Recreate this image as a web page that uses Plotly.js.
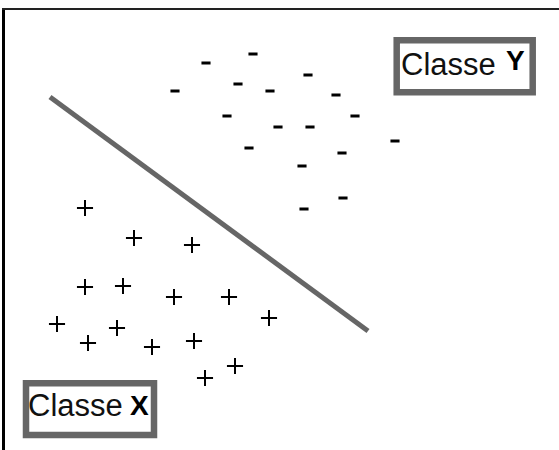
<!DOCTYPE html>
<html>
<head>
<meta charset="utf-8">
<script src="https://cdn.plot.ly/plotly-3.0.1.min.js"></script>
<style>html,body{margin:0;padding:0;background:#fff;}#chart{width:559px;height:450px;}</style>
</head>
<body>
<div id="chart"></div>
<script>
// Classe Y (minus signs)
const minusX = [24.8, 20.1, 30.3, 23.3, 17.0, 26.5, 33.1, 22.2, 35.0, 27.3, 30.5, 39.0, 24.4, 33.7, 29.7, 33.8, 29.9];
const minusY = [39.6, 38.7, 37.5, 36.6, 35.9, 35.9, 35.5, 33.4, 33.4, 32.3, 32.3, 30.9, 30.2, 29.7, 28.4, 25.2, 24.1];
// Classe X (plus signs)
const plusX = [8.0, 12.9, 18.7, 8.0, 11.8, 16.9, 22.4, 26.4, 5.2, 11.2, 8.3, 14.7, 18.9, 23.0, 20.0];
const plusY = [24.2, 21.2, 20.5, 16.3, 16.4, 15.3, 15.3, 13.2, 12.6, 12.2, 10.7, 10.3, 10.9, 8.4, 7.2];
// separating line
const lineX = [4.5, 36.3];
const lineY = [35.3, 11.9];
// labels
const classWord = "Classe";
const classLetters = ["X", "Y"];

const fam = "Liberation Sans, Arial, Helvetica, sans-serif";
const boxColor = "#666666";

const traces = [
  {x: lineX, y: lineY, mode: "lines", line: {color: boxColor, width: 5}, hoverinfo: "skip"},
  {x: minusX, y: minusY, mode: "markers", marker: {symbol: "line-ew", size: 6.5, line: {color: "#000", width: 3}}},
  {x: plusX, y: plusY, mode: "markers", marker: {symbol: "cross-thin", size: 11.5, line: {color: "#000", width: 2}}}
];

const layout = {
  width: 559, height: 450,
  margin: {l: 5, t: 10, r: 0, b: 0, pad: 0},
  paper_bgcolor: "#fff", plot_bgcolor: "#fff",
  showlegend: false,
  xaxis: {range: [0, 55.4], side: "top", showline: true, linecolor: "#222", linewidth: 2,
          showgrid: false, zeroline: false, ticks: "", showticklabels: false, fixedrange: true},
  yaxis: {range: [0, 44], showline: true, linecolor: "#000", linewidth: 3,
          showgrid: false, zeroline: false, ticks: "", showticklabels: false, fixedrange: true},
  shapes: [
    {type: "rect", xref: "x", yref: "y", x0: 2.1, x1: 14.9, y0: 1.5, y1: 6.67, line: {color: boxColor, width: 6.5}},
    {type: "rect", xref: "x", yref: "y", x0: 39.17, x1: 52.77, y0: 35.77, y1: 40.97, line: {color: boxColor, width: 6.5}}
  ],
  annotations: [
    {x: 2.1, y: 4.45, xref: "x", yref: "y", text: classWord, showarrow: false, xanchor: "left", yanchor: "middle",
     font: {family: fam, size: 31, color: "#111"}},
    {x: 13.4, y: 4.5, xref: "x", yref: "y", text: "<b>" + classLetters[0] + "</b>", showarrow: false, xanchor: "center", yanchor: "middle",
     font: {family: fam, size: 28, color: "#000"}},
    {x: 39.35, y: 38.6, xref: "x", yref: "y", text: classWord, showarrow: false, xanchor: "left", yanchor: "middle",
     font: {family: fam, size: 31, color: "#111"}},
    {x: 51.03, y: 38.95, xref: "x", yref: "y", text: "<b>" + classLetters[1] + "</b>", showarrow: false, xanchor: "center", yanchor: "middle",
     font: {family: fam, size: 28, color: "#000"}}
  ]
};

Plotly.newPlot("chart", traces, layout, {displayModeBar: false, staticPlot: true});
</script>
</body>
</html>
